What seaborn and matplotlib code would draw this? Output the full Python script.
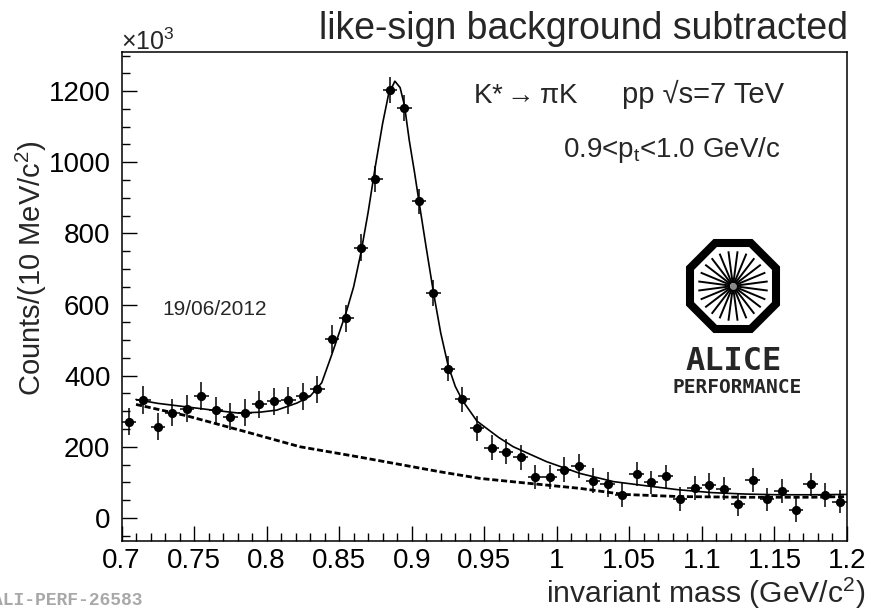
import numpy as np
import pandas as pd
import matplotlib
matplotlib.use("Agg")
import matplotlib.pyplot as plt
from matplotlib.ticker import MultipleLocator, FixedLocator, FixedFormatter
from matplotlib.patches import RegularPolygon
import seaborn as sns

# ---------------- data ----------------
mass = [0.705, 0.715, 0.725, 0.735, 0.745, 0.755, 0.765, 0.775, 0.785, 0.795,
        0.805, 0.815, 0.825, 0.835, 0.845, 0.855, 0.865, 0.875, 0.885, 0.895,
        0.905, 0.915, 0.925, 0.935, 0.945, 0.955, 0.965, 0.975, 0.985, 0.995,
        1.005, 1.015, 1.025, 1.035, 1.045, 1.055, 1.065, 1.075, 1.085, 1.095,
        1.105, 1.115, 1.125, 1.135, 1.145, 1.155, 1.165, 1.175, 1.185, 1.195]
counts = [270, 332, 256, 295, 307, 343, 303, 285, 295, 320,
          328, 331, 342, 361, 503, 562, 760, 952, 1204, 1152,
          890, 633, 420, 333, 252, 197, 186, 171, 116, 116,
          136, 145, 105, 94, 64, 123, 100, 117, 53, 84,
          92, 82, 38, 106, 52, 75, 22, 94, 64, 46]
count_err = [38, 39, 38, 38, 38, 39, 38, 38, 38, 38,
             38, 38, 38, 38, 38, 38, 37, 37, 37, 37,
             36, 36, 36, 36, 35, 35, 35, 35, 34, 34,
             34, 34, 34, 34, 33, 33, 33, 33, 33, 33,
             33, 33, 33, 33, 33, 33, 33, 33, 33, 33]
half_bin = 0.005

# total fit (signal + residual background)
fit_mass = [0.710, 0.725, 0.745, 0.765, 0.780, 0.795, 0.807, 0.821, 0.830, 0.838,
            0.845, 0.850, 0.855, 0.860, 0.865, 0.870, 0.875, 0.880, 0.884, 0.8884,
            0.892, 0.895, 0.8983, 0.902, 0.905, 0.910, 0.915, 0.920, 0.925, 0.930,
            0.935, 0.945, 0.960, 0.970, 0.993, 1.016, 1.039, 1.062, 1.084, 1.107,
            1.130, 1.153, 1.176, 1.200]
fit_total = [333, 322, 312, 302, 295, 297, 303, 323, 342, 380,
             460, 520, 580, 650, 745, 860, 990, 1110, 1190, 1228,
             1210, 1160, 1062, 970, 890, 760, 634, 520, 430, 370,
             330, 272, 226, 200, 158, 125, 102, 90, 79, 71,
             67, 65, 65, 66]

# residual background
bkg_mass = [0.710, 0.745, 0.784, 0.823, 0.864, 0.919, 0.947, 0.981, 1.016, 1.046,
            1.084, 1.130, 1.176, 1.200]
bkg_counts = [319, 287, 244, 200, 171, 130, 111, 97, 83, 66,
              60, 58, 58, 60]

x_ticks = [0.7, 0.75, 0.8, 0.85, 0.9, 0.95, 1.0, 1.05, 1.1, 1.15, 1.2]
x_ticklabels = ["0.7", "0.75", "0.8", "0.85", "0.9", "0.95", "1", "1.05", "1.1", "1.15", "1.2"]
y_ticks = [0, 200, 400, 600, 800, 1000, 1200]
y_ticklabels = ["0", "200", "400", "600", "800", "1000", "1200"]

# ---------------- style ----------------
sns.set_theme(style="ticks")
plt.rcParams['font.family'] = ['Liberation Sans', 'DejaVu Sans']
plt.rcParams['mathtext.fontset'] = 'custom'
plt.rcParams['mathtext.rm'] = 'Liberation Sans'
plt.rcParams['mathtext.it'] = 'Liberation Sans:italic'
plt.rcParams['mathtext.bf'] = 'Liberation Sans:bold'
plt.rcParams['axes.edgecolor'] = 'black'
plt.rcParams['xtick.color'] = 'black'
plt.rcParams['ytick.color'] = 'black'

W, H = 871, 615
fig = plt.figure(figsize=(W / 100, H / 100), dpi=100)
fig.patch.set_facecolor('white')


def fx(px):
    return px / W


def fy(py):
    return 1 - py / H


ax = fig.add_axes([fx(121.5), fy(541), fx(847) - fx(121.5), fy(52) - fy(541)])
ax.set_facecolor('white')

df = pd.DataFrame({"mass": mass, "counts": counts, "err": count_err})
fit_df = pd.DataFrame({"mass": fit_mass, "counts": fit_total})
bkg_df = pd.DataFrame({"mass": bkg_mass, "counts": bkg_counts})

# curves
sns.lineplot(data=fit_df, x="mass", y="counts", ax=ax, color="black", lw=1.2,
             sort=False, estimator=None, zorder=2)
sns.lineplot(data=bkg_df, x="mass", y="counts", ax=ax, color="black", lw=2.0,
             sort=False, estimator=None, zorder=2)
ax.lines[-1].set_dashes([2.2, 1.0])

# data points with error bars
ax.errorbar(df["mass"], df["counts"], yerr=df["err"], xerr=half_bin, fmt="none",
            ecolor="black", elinewidth=1.1, capsize=0, zorder=3)
sns.scatterplot(data=df, x="mass", y="counts", ax=ax, color="black", s=44,
                edgecolor="black", linewidth=0, zorder=4)

ax.set_xlim(0.7, 1.2)
ax.set_ylim(-65, 1310)
ax.set_xlabel("")
ax.set_ylabel("")

ax.xaxis.set_major_locator(FixedLocator(x_ticks))
ax.xaxis.set_major_formatter(FixedFormatter(x_ticklabels))
ax.xaxis.set_minor_locator(MultipleLocator(0.01))
ax.yaxis.set_major_locator(FixedLocator(y_ticks))
ax.yaxis.set_major_formatter(FixedFormatter(y_ticklabels))
ax.yaxis.set_minor_locator(MultipleLocator(50))

ax.tick_params(which="both", direction="in", top=False, right=False, width=1.0)
ax.tick_params(which="major", length=10.5, labelsize=20)
ax.tick_params(which="minor", length=5.5)
ax.tick_params(axis="y", which="major", pad=8)
ax.tick_params(axis="x", which="major", pad=5)
for s in ax.spines.values():
    s.set_visible(True)
    s.set_linewidth(1.1)
    s.set_color("black")

# ---------------- texts ----------------
fig.text(fx(848), fy(39), "like-sign background subtracted", ha="right",
         va="baseline", fontsize=27)
fig.text(fx(121), fy(50), "×10$^{3}$", ha="left", va="baseline", fontsize=18)
fig.text(fx(31), fy(268), "Counts/(10 MeV/c$^{2}$)", rotation=90, ha="center",
         va="center", fontsize=21)
fig.text(fx(865), fy(603), "invariant mass (GeV/c$^{2}$)", ha="right",
         va="baseline", fontsize=21.7)
fig.text(fx(473), fy(103), "K*$\\rightarrow$πK", ha="left", va="baseline",
         fontsize=20)
fig.text(fx(622), fy(103), "pp √s=7 TeV", ha="left", va="baseline", fontsize=21)
fig.text(fx(563), fy(157), "0.9<p$_{\\rm t}$<1.0 GeV/c", ha="left",
         va="baseline", fontsize=20)
fig.text(fx(162), fy(315), "19/06/2012", ha="left", va="baseline", fontsize=15)
fig.text(fx(-8), fy(605), "ALI-PERF-26583", ha="left", va="baseline",
         family="Liberation Mono", weight="bold", color="#a8a8a8", fontsize=13)

# ---------------- ALICE logo ----------------
lax = fig.add_axes([fx(660), fy(400), fx(810) - fx(660), fy(230) - fy(400)])
lax.set_xlim(660, 810)
lax.set_ylim(400, 230)
lax.axis("off")
cx, cy = 733, 286
lax.add_patch(RegularPolygon((cx, cy), 8, radius=(47 - 4.0) / np.cos(np.pi / 8),
                             orientation=np.pi / 8, fill=False, lw=5.8,
                             ec="black"))
n_spokes = 24
for k in range(n_spokes):
    th = 2 * np.pi * (k + 0.5) / n_spokes
    lax.plot([cx + 3 * np.cos(th), cx + 35 * np.cos(th)],
             [cy + 3 * np.sin(th), cy + 35 * np.sin(th)],
             color="black", lw=1.4, solid_capstyle="butt")
lax.plot([cx], [cy], marker="o", ms=5, color="#888888", mec="none")
lax.text(733.5, 370, "ALICE", ha="center", va="baseline",
         family="DejaVu Sans Mono", weight="bold", fontsize=23)
lax.text(737.5, 393, "PERFORMANCE", ha="center", va="baseline",
         family="DejaVu Sans Mono", weight="bold", fontsize=14)

fig.savefig("out.png", dpi=100, facecolor="white")
